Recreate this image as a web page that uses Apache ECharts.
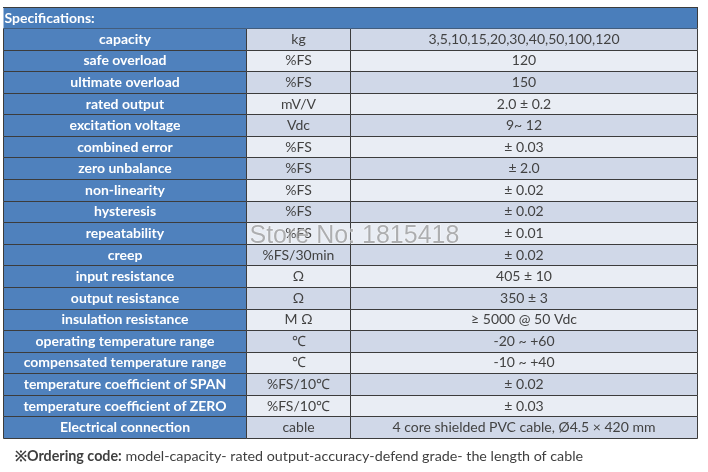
<!DOCTYPE html>
<html><head><meta charset="utf-8">
<script src="https://cdn.jsdelivr.net/npm/echarts@6/dist/echarts.min.js"></script>
<style>html,body{margin:0;padding:0;background:#fff}#c{width:708px;height:472px}</style>
</head><body><div id="c"></div>
<script>
const headerText = ['Specifications:'];
const params = ['capacity','safe overload','ultimate overload','rated output','excitation voltage','combined error','zero unbalance','non-linearity','hysteresis','repeatability','creep','input resistance','output resistance','insulation resistance','operating temperature range','compensated temperature range','temperature coefficient of SPAN','temperature coefficient of ZERO','Electrical connection'];
const units = ['kg','%FS','%FS','mV/V','Vdc','%FS','%FS','%FS','%FS','%FS','%FS/30min','Ω','Ω','M Ω','℃','℃','%FS/10℃','%FS/10℃','cable'];
const values = ['3,5,10,15,20,30,40,50,100,120','120','150','2.0 ± 0.2','9~ 12','± 0.03','± 2.0','± 0.02','± 0.02','± 0.01','± 0.02','405 ± 10','350 ± 3','≥ 5000 @ 50 Vdc','-20 ~ +60','-10 ~ +40','± 0.02','± 0.03','4 core shielded PVC cable, Ø4.5 × 420 mm'];
const footBold = '※Ordering code:';
const footText = ' model-capacity- rated output-accuracy-defend grade- the length of cable';
const watermark = 'Store No: 1815418';

const BLUE = '#4f81bd', DARK = '#d0d8e8', LIGHT = '#e9edf4', LINE = '#3c3c3c';
const chart = echarts.init(document.getElementById('c'), null, {renderer: 'canvas'});

function cellRender(texts, kind) {
  return function (p, api) {
    const i = api.value(1);
    const c = api.coord([0, i]);
    const s = api.size([1, 1]);
    const x = Math.round(c[0] - s[0] / 2) + 0.5, y = c[1] - s[1] / 2;
    let fill, tfill, font, tx, align;
    if (kind === 'name') { fill = BLUE; tfill = '#fff'; font = 'bold 14px Lato'; tx = x + s[0] / 2; align = 'center'; }
    else if (kind === 'head') { fill = '#4a7ebb'; tfill = '#fff'; font = 'bold 14px Lato'; tx = x + 1; align = 'left'; }
    else { fill = i % 2 === 0 ? DARK : LIGHT; tfill = '#424242'; font = '14px Lato'; tx = x + s[0] / 2; align = 'center'; }
    return {
      type: 'group',
      children: [
        {type: 'rect', shape: {x: x, y: Math.round(y) + 0.5, width: s[0], height: Math.round(y + s[1]) - Math.round(y)},
         style: {fill: fill, stroke: kind === 'head' ? null : LINE, lineWidth: 1}},
        {type: 'text', style: {text: texts[i], x: tx, y: y + s[1] / 2 + 0.5, align: align, verticalAlign: 'middle', fill: tfill, font: font}}
      ]
    };
  };
}

const rowIdx = params.map((_, i) => i);
const cols = [
  {left: 3, width: 243, texts: params, kind: 'name'},
  {left: 246, width: 104, texts: units, kind: 'unit'},
  {left: 350, width: 347, texts: values, kind: 'val'}
];
const grids = [], xAxes = [], yAxes = [], series = [];
cols.forEach((c, k) => {
  grids.push({left: c.left, top: 28, width: c.width, height: 410});
  xAxes.push({type: 'category', gridIndex: k, data: ['c'], show: false});
  yAxes.push({type: 'category', gridIndex: k, data: rowIdx, inverse: true, show: false});
  series.push({type: 'custom', xAxisIndex: k, yAxisIndex: k, data: rowIdx.map(i => [0, i]), renderItem: cellRender(c.texts, c.kind), silent: true, animation: false});
});
grids.push({left: 3, top: 7, width: 694, height: 21});
xAxes.push({type: 'category', gridIndex: 3, data: ['c'], show: false});
yAxes.push({type: 'category', gridIndex: 3, data: [0], show: false});
series.push({type: 'custom', xAxisIndex: 3, yAxisIndex: 3, data: [[0, 0]], renderItem: cellRender(headerText, 'head'), silent: true, animation: false});

chart.setOption({
  animation: false,
  grid: grids, xAxis: xAxes, yAxis: yAxes, series: series,
  graphic: [
    {type: 'line', z: 100, shape: {x1: 3, y1: 7.5, x2: 697, y2: 7.5}, style: {stroke: LINE, lineWidth: 1}},
    {type: 'line', z: 100, shape: {x1: 697.5, y1: 7, x2: 697.5, y2: 28}, style: {stroke: LINE, lineWidth: 1}},
    {type: 'text', z: 100, left: 249, top: 223, style: {text: watermark, font: '25px "Liberation Sans"', fill: 'rgba(130,130,130,0.6)', stroke: 'rgba(255,255,255,0.6)', lineWidth: 1}},
    {type: 'text', z: 100, left: 15, top: 449, style: {rich: {b: {font: 'bold 14.3px Lato', fill: '#3f3f3f'}, n: {font: '14.3px Lato', fill: '#3f3f3f'}}, text: '{b|' + footBold + '}{n|' + footText + '}'}}
  ]
});
</script></body></html>
